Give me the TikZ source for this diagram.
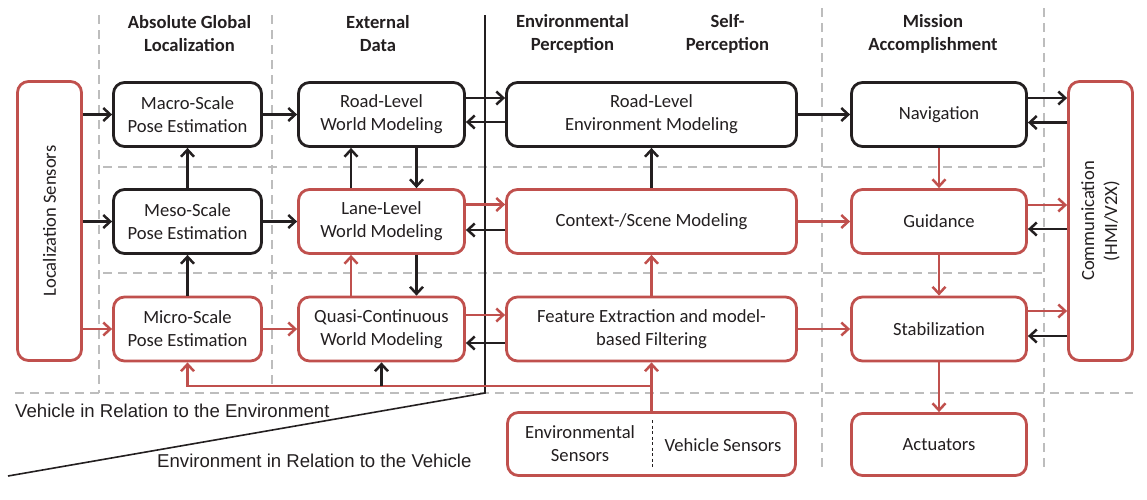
\documentclass[tikz,border=0pt]{standalone}
\usepackage{fontspec}
\setmainfont{Carlito}
\newfontfamily\arialfont{Liberation Sans}
\usetikzlibrary{arrows.meta,calc}
\definecolor{rd}{RGB}{192,80,77}
\definecolor{dk}{RGB}{35,31,32}
\definecolor{gr}{RGB}{189,189,189}
\newcommand\bxf{\fontsize{18.6}{23}\selectfont}
\begin{document}
\begin{tikzpicture}[x=1pt,y=-1pt,
  box/.style={draw, line width=2.8pt, rounded corners=11pt, fill=white, inner sep=0pt,
    align=center, font=\bxf, text=dk, minimum height=64pt},
  kbox/.style={box, draw=dk},
  rbox/.style={box, draw=rd},
  hdr/.style={font=\bxf\bfseries, text=dk, align=center, inner sep=0pt},
  arr/.style={line width=2.5pt, -{Straight Barb[length=7pt,width=13pt]}},
  karr/.style={arr, draw=dk},
  rarr/.style={arr, draw=rd},
  grid/.style={draw=gr, line width=2pt, dash pattern=on 9pt off 6pt},
  rel/.style={anchor=west, inner sep=0pt, text=dk, font=\arialfont\fontsize{18.6}{21}\selectfont}]
\useasboundingbox (0,0) rectangle (1147,499);

% grid lines
\draw[grid] (99,15) -- (99,393);
\draw[grid] (272,15) -- (272,388);
\draw[grid] (822,8) -- (822,472);
\draw[grid] (1044,8) -- (1044,467);
\draw[grid] (103,167) -- (1044,167);
\draw[grid] (103,273) -- (1044,273);
\draw[grid] (15,393) -- (1133,393);

% separation line
\coordinate (sa) at (485,15);
\coordinate (sb) at (485,393);
\coordinate (sc) at (8,476);
\draw[dk, line width=1.6pt] (sa) -- (sb) -- (sc);

% headers
\node[hdr] (h1) at (189.5,33.5) {Absolute Global\\Localization};
\node[hdr] (h2) at (378,33.5) {External\\Data};
\node[hdr] (h3) at (572.5,33.5) {Environmental\\Perception};
\node[hdr] (h4) at (727.5,33.5) {Self-\\Perception};
\node[hdr] (h5) at (933,33.5) {Mission\\Accomplishment};

% boxes
\node[rbox, minimum width=64pt, minimum height=279pt] (loc) at (49.5,221) {};
\node[rotate=90, font=\bxf, text=dk] (loct) at (loc.center) {Localization Sensors};
\node[kbox, minimum width=148pt] (macro) at (187.5,114.5) {Macro-Scale\\Pose Estimation};
\node[kbox, minimum width=148pt] (meso) at (187.5,221.5) {Meso-Scale\\Pose Estimation};
\node[rbox, minimum width=148pt] (micro) at (187.5,329) {Micro-Scale\\Pose Estimation};
\node[kbox, minimum width=166pt] (roadw) at (381.5,114.5) {Road-Level\\World Modeling};
\node[rbox, minimum width=166pt] (lane) at (381.5,221.5) {Lane-Level\\World Modeling};
\node[rbox, minimum width=166pt] (quasi) at (381.5,329) {Quasi-Continuous\\World Modeling};
\node[kbox, minimum width=290pt] (roade) at (651.5,114.5) {Road-Level\\Environment Modeling};
\node[rbox, minimum width=290pt] (context) at (651.5,221.5) {Context-/Scene Modeling};
\node[rbox, minimum width=290pt] (feature) at (651.5,329) {Feature Extraction and model-\\based Filtering};
\node[kbox, minimum width=175pt] (nav) at (939,114.5) {Navigation};
\node[rbox, minimum width=175pt] (guid) at (939,221.5) {Guidance};
\node[rbox, minimum width=175pt] (stab) at (939,329) {Stabilization};
\node[rbox, minimum width=175pt, minimum height=62pt] (act) at (939,444.5) {Actuators};
\node[rbox, minimum width=64pt, minimum height=279pt] (comm) at (1100.5,221) {};
\node[rotate=90, font=\bxf, text=dk, align=center] (commt) at (comm.center) {Communication\\(HMI/V2X)};
\node[rbox, minimum width=288pt, minimum height=63pt] (sens) at (651.5,444) {};
\node[font=\bxf, text=dk, align=center] (envs) at (580,444) {Environmental\\Sensors};
\node[font=\bxf, text=dk] (vehs) at (723,445) {Vehicle Sensors};
\coordinate (d1) at (652,420);
\coordinate (d2) at (652,468);
\draw[dk, line width=1pt, dash pattern=on 3pt off 2.5pt] (d1) -- (d2);

% relation labels
\node[rel] (vre) at (15,411) {Vehicle in Relation to the Environment};
\node[rel] (erv) at (157,461) {Environment in Relation to the Vehicle};

% connectors: localization
\draw[karr] (loc.east |- macro.west) -- (macro.west);
\draw[karr] (loc.east |- meso.west) -- (meso.west);
\draw[rarr] (loc.east |- micro.west) -- (micro.west);
\draw[karr] (macro.east) -- (roadw.west);
\draw[karr] (meso.east) -- (lane.west);
\draw[rarr] (micro.east) -- (quasi.west);
\draw[karr] (meso.north) -- (macro.south);
\draw[karr] (micro.north) -- (meso.south);
% world modeling verticals
\draw[karr] ($(lane.north)+(-30.5,0)$) -- ($(roadw.south)+(-30.5,0)$);
\draw[karr] ($(roadw.south)+(35,0)$) -- ($(lane.north)+(35,0)$);
\draw[rarr] ($(quasi.north)+(-30.5,0)$) -- ($(lane.south)+(-30.5,0)$);
\draw[karr] ($(lane.south)+(35,0)$) -- ($(quasi.north)+(35,0)$);
% world <-> environment
\draw[karr] ($(roadw.east)+(0,-16.5)$) -- ($(roade.west)+(0,-16.5)$);
\draw[karr] ($(roade.west)+(0,7.5)$) -- ($(roadw.east)+(0,7.5)$);
\draw[rarr] ($(lane.east)+(0,-17)$) -- ($(context.west)+(0,-17)$);
\draw[karr] ($(context.west)+(0,8.5)$) -- ($(lane.east)+(0,8.5)$);
\draw[rarr] ($(quasi.east)+(0,-14)$) -- ($(feature.west)+(0,-14)$);
\draw[karr] ($(feature.west)+(0,14)$) -- ($(quasi.east)+(0,14)$);
\draw[karr] (context.north) -- (roade.south);
\draw[rarr] (feature.north) -- (context.south);
% to mission
\draw[karr] (roade.east) -- (nav.west);
\draw[rarr] (context.east) -- (guid.west);
\draw[rarr] (feature.east) -- (stab.west);
\draw[rarr] (nav.south) -- (guid.north);
\draw[rarr] (guid.south) -- (stab.north);
\draw[rarr] (stab.south) -- (act.north);
% communication
\draw[karr] ($(nav.east)+(0,-16.5)$) -- ($(nav.east -| comm.west)+(0,-16.5)$);
\draw[karr] ($(nav.east -| comm.west)+(0,8)$) -- ($(nav.east)+(0,8)$);
\draw[rarr] ($(guid.east)+(0,-16.5)$) -- ($(guid.east -| comm.west)+(0,-16.5)$);
\draw[karr] ($(guid.east -| comm.west)+(0,7.5)$) -- ($(guid.east)+(0,7.5)$);
\draw[rarr] ($(stab.east)+(0,-18)$) -- ($(stab.east -| comm.west)+(0,-18)$);
\draw[karr] ($(stab.east -| comm.west)+(0,7)$) -- ($(stab.east)+(0,7)$);
% sensors
\coordinate (j) at (651.5,386);
\draw[rarr] (sens.north) -- (feature.south);
\draw[rarr] (j) -- (j -| micro.south) -- (micro.south);
\draw[karr] (j -| quasi.south) -- (quasi.south);
\end{tikzpicture}
\end{document}
